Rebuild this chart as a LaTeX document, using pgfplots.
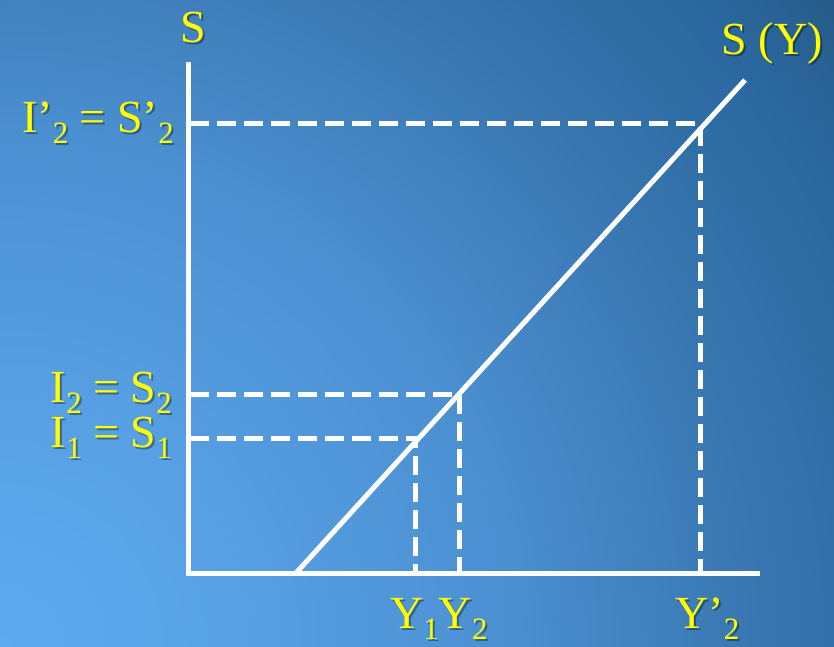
\documentclass[border=0pt]{standalone}
\usepackage{pgfplots}
\pgfplotsset{compat=1.18}
\usepackage{fontspec}
\setmainfont{Liberation Serif}
\definecolor{lblyellow}{RGB}{255,255,0}
\pgfdeclareradialshading{bgshade}{\pgfpoint{0bp}{0bp}}{%
  rgb(0bp)=(0.372,0.670,0.945);
  rgb(6bp)=(0.340,0.625,0.890);
  rgb(12.25bp)=(0.290,0.560,0.815);
  rgb(15.25bp)=(0.255,0.505,0.745);
  rgb(19.5bp)=(0.195,0.440,0.660);
  rgb(22.5bp)=(0.165,0.405,0.620);
  rgb(25bp)=(0.150,0.355,0.530);
  rgb(50bp)=(0.150,0.355,0.530)}
\newcommand{\sub}[1]{\raisebox{-11pt}{\fontsize{31}{31}\selectfont #1}}
\newcommand{\lbl}[4]{%
  \node[anchor=#3, inner sep=0pt, text=black, opacity=0.35] at ([xshift=2pt,yshift=-2pt]axis cs:#1,#2) {#4};
  \node[anchor=#3, inner sep=0pt, text=lblyellow] at (axis cs:#1,#2) {#4};
}
\begin{document}
\begin{tikzpicture}
\begin{scope}
\clip (0,0) rectangle (834pt,646pt);
\shade[shading=bgshade] (0,0) circle (1060pt);
\end{scope}
\useasboundingbox (0,0) rectangle (834pt,646pt);
\begin{axis}[
  at={(0,0)}, anchor=south west,
  scale only axis, width=834pt, height=646pt,
  xmin=0, xmax=834, ymin=0, ymax=646,
  hide axis, clip=false,
]
% dashed guide lines
\addplot[white, line width=5pt, dash pattern=on 19pt off 8pt] coordinates {(190,522) (700,522) (700,73)};
\addplot[white, line width=5pt, dash pattern=on 19pt off 8pt] coordinates {(190,252) (459,252) (459,73)};
\addplot[white, line width=5pt, dash pattern=on 19pt off 8pt] coordinates {(190,208) (415,208) (415,73)};
% axes
\addplot[white, line width=5pt] coordinates {(188,584) (188,71)};
\addplot[white, line width=5pt] coordinates {(186,73) (760,73)};
% S(Y) line
\addplot[white, line width=5pt] coordinates {(296,73) (745,566)};
% labels
\fontsize{46}{50}\selectfont
\lbl{193}{603}{base}{S}
\lbl{823}{591}{base east}{S (Y)}
\lbl{174}{513}{base east}{I’\sub{2} = S’\sub{2}}
\lbl{172}{244}{base east}{I\sub{2} = S\sub{2}}
\lbl{172}{199}{base east}{I\sub{1} = S\sub{1}}
\lbl{390}{18}{base west}{Y\sub{1}Y\sub{2}}
\lbl{675}{18}{base west}{Y’\sub{2}}
\end{axis}
\end{tikzpicture}
\end{document}
